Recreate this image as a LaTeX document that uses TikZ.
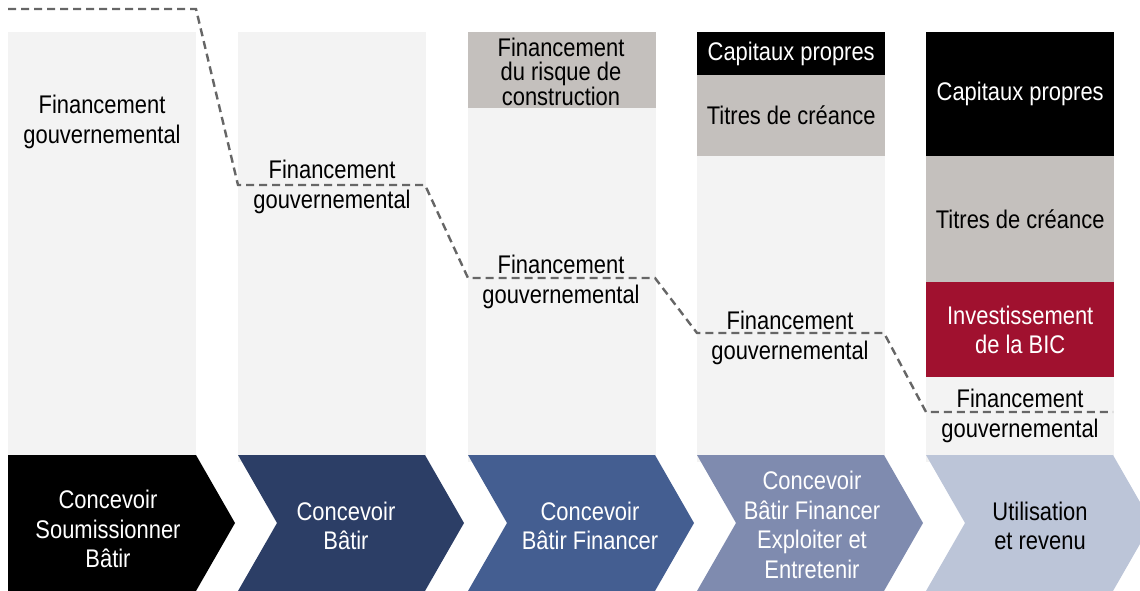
\documentclass[tikz,border=0pt]{standalone}
\usepackage{fontspec}
\setmainfont{Liberation Sans}[FakeStretch=0.86]
\definecolor{panel}{HTML}{F3F3F3}
\definecolor{bandgray}{HTML}{C4C0BD}
\definecolor{bicred}{HTML}{A0112F}
\definecolor{chevA}{HTML}{000000}
\definecolor{chevB}{HTML}{2C3E66}
\definecolor{chevC}{HTML}{445E91}
\definecolor{chevD}{HTML}{7F8BAF}
\definecolor{chevE}{HTML}{BCC5D8}
\definecolor{dashgray}{HTML}{666666}
\tikzset{
  lbl/.style={align=center, inner sep=0pt, font=\fontsize{25.5}{29.5}\selectfont},
  tightlbl/.style={align=center, inner sep=0pt, font=\fontsize{25.5}{23.5}\selectfont},
  panelbox/.style={fill=panel, draw=none, inner sep=0pt, minimum width=188pt, anchor=north west},
  bandbox/.style={draw=none, inner sep=0pt, minimum width=188pt, anchor=north west, align=center, font=\fontsize{25.5}{29.5}\selectfont},
  govline/.style={draw=dashgray, line width=2.4pt, dash pattern=on 8pt off 5pt},
}
\begin{document}
\begin{tikzpicture}[x=1pt, y=-1pt]
\useasboundingbox (0,0) rectangle (1140,591);
\clip (0,0) rectangle (1140,591);
% column panels
\node[panelbox, minimum height=430pt] (p1) at (8,32) {};
\node[panelbox, minimum height=430pt] (p2) at (238,32) {};
\node[panelbox, minimum height=430pt] (p3) at (468,32) {};
\node[panelbox, minimum height=430pt] (p4) at (697,32) {};
\node[panelbox, minimum height=430pt] (p5) at (926,32) {};
% stacked bands
\node[bandbox, fill=bandgray, minimum height=76pt] (b3) at (468,32) {};
\node[tightlbl] (t3) at (561,72) {Financement\\du risque de\\construction};
\node[bandbox, fill=black, minimum height=43pt, text=white] (b4a) at (697,32) {Capitaux propres};
\node[bandbox, fill=bandgray, minimum height=81pt] (b4b) at (697,75) {Titres de créance};
\node[bandbox, fill=black, minimum height=124pt, text=white] (b5a) at (926,32) {Capitaux propres};
\node[bandbox, fill=bandgray, minimum height=126pt] (b5b) at (926,156) {Titres de créance};
\node[bandbox, fill=bicred, minimum height=95pt, text=white] (b5c) at (926,282) {Investissement\\de la BIC};
% government funding labels
\node[lbl] (g1) at (102,122) {Financement\\gouvernemental};
\node[lbl] (g2) at (332,187) {Financement\\gouvernemental};
\node[lbl] (g3) at (561,282) {Financement\\gouvernemental};
\node[lbl] (g4) at (790,338) {Financement\\gouvernemental};
\node[lbl] (g5) at (1020,416) {Financement\\gouvernemental};
% dashed level line
\coordinate (d0) at (8,9);
\coordinate (d1) at (196,9);
\coordinate (d2) at (238,185);
\coordinate (d3) at (425,185);
\coordinate (d4) at (468,278);
\coordinate (d5) at (655,278);
\coordinate (d6) at (697,333);
\coordinate (d7) at (884,333);
\coordinate (d8) at (926,412);
\coordinate (d9) at (1113,412);
\draw[govline] (d0) -- (d1) -- (d2) -- (d3) -- (d4) -- (d5) -- (d6) -- (d7) -- (d8) -- (d9);
% chevrons
\fill[chevA] (8,455) -- (196,455) -- (235,523) -- (196,591) -- (8,591) -- cycle;
\fill[chevB] (238,455) -- (425,455) -- (464,523) -- (425,591) -- (238,591) -- (277,523) -- cycle;
\fill[chevC] (468,455) -- (655,455) -- (694,523) -- (655,591) -- (468,591) -- (507,523) -- cycle;
\fill[chevD] (697,455) -- (884,455) -- (923,523) -- (884,591) -- (697,591) -- (736,523) -- cycle;
\fill[chevE] (926,455) -- (1113,455) -- (1152,523) -- (1113,591) -- (926,591) -- (965,523) -- cycle;
\node[lbl, text=white] (c1) at (108,529) {Concevoir\\Soumissionner\\Bâtir};
\node[lbl, text=white] (c2) at (346,526) {Concevoir\\Bâtir};
\node[lbl, text=white] (c3) at (590,526) {Concevoir\\Bâtir Financer};
\node[lbl, text=white] (c4) at (812,525) {Concevoir\\Bâtir Financer\\Exploiter et\\Entretenir};
\node[lbl, text=black] (c5) at (1040,526) {Utilisation\\et revenu};
\end{tikzpicture}
\end{document}
